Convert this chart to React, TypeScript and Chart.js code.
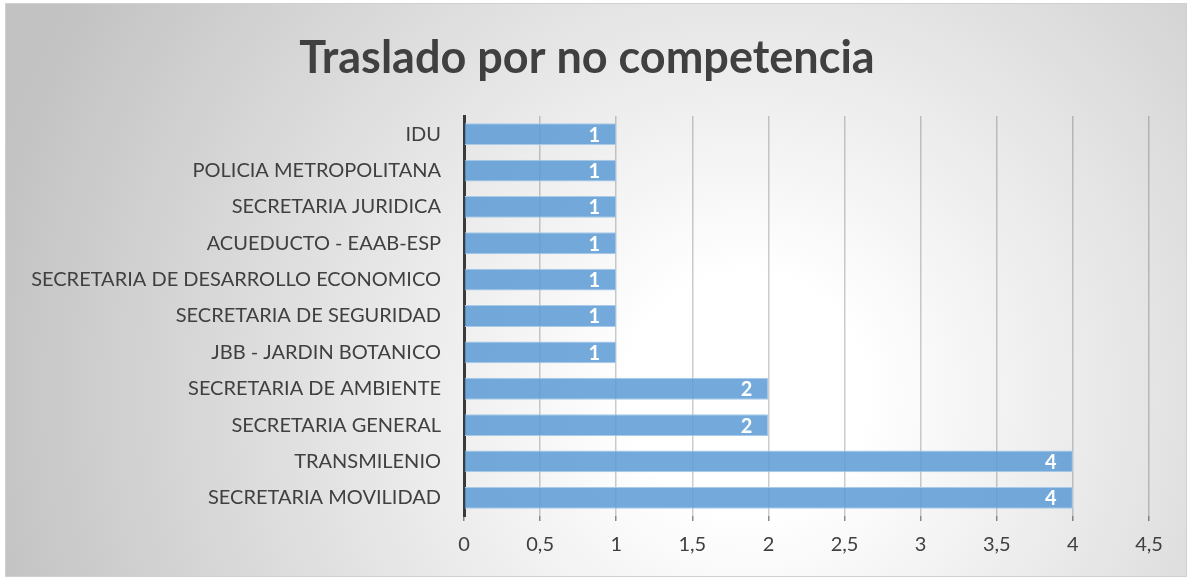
import React, { useEffect, useRef } from "react";
import { Chart, registerables } from "chart.js";

Chart.register(...registerables);

const categories = [
  "IDU",
  "POLICIA METROPOLITANA",
  "SECRETARIA JURIDICA",
  "ACUEDUCTO - EAAB-ESP",
  "SECRETARIA DE DESARROLLO ECONOMICO",
  "SECRETARIA DE SEGURIDAD",
  "JBB - JARDIN BOTANICO",
  "SECRETARIA DE AMBIENTE",
  "SECRETARIA GENERAL",
  "TRANSMILENIO",
  "SECRETARIA MOVILIDAD",
];
const values = [1, 1, 1, 1, 1, 1, 1, 2, 2, 4, 4];
const titleText = "Traslado por no competencia";
const FONT = "Lato, 'Open Sans', sans-serif";

const bgPlugin = {
  id: "bgGrad",
  beforeDraw(chart: any) {
    const { ctx, width, height } = chart;
    ctx.save();
    const g = ctx.createRadialGradient(740, 390, 120, 740, 390, 780);
    g.addColorStop(0, "#ffffff");
    g.addColorStop(1, "#c2c2c2");
    ctx.fillStyle = g;
    ctx.fillRect(0, 0, width, height);
    ctx.restore();
  },
};

const labelPlugin = {
  id: "barLabels",
  afterDatasetsDraw(chart: any) {
    const { ctx } = chart;
    const meta = chart.getDatasetMeta(0);
    ctx.save();
    ctx.fillStyle = "#ffffff";
    ctx.font = `bold 20px ${FONT}`;
    ctx.textAlign = "center";
    ctx.textBaseline = "middle";
    meta.data.forEach((bar: any, i: number) => {
      ctx.fillText(String(values[i]), bar.x - 22, bar.y + 1);
    });
    ctx.restore();
  },
};

export default function App() {
  const ref = useRef<HTMLCanvasElement | null>(null);
  useEffect(() => {
    document.body.style.margin = "0";
    const chart = new Chart(ref.current!, {
      type: "bar",
      data: {
        labels: categories,
        datasets: [
          {
            data: values,
            backgroundColor: "rgba(91,155,213,0.85)",
            borderColor: "#a9cbea",
            borderWidth: 1,
            categoryPercentage: 0.6,
            barPercentage: 1,
          },
        ],
      },
      plugins: [bgPlugin, labelPlugin],
      options: {
        indexAxis: "y",
        animation: false,
        responsive: false,
        layout: { padding: { left: 10.5, right: 28.5, top: 0, bottom: 0 } },
        plugins: {
          legend: { display: false },
          tooltip: { enabled: false },
          title: {
            display: true,
            text: titleText,
            color: "#404040",
            font: { family: FONT, size: 45, weight: "bold" },
            padding: { top: 27, bottom: 31 },
          },
        },
        scales: {
          x: {
            min: 0,
            max: 4.5,
            ticks: {
              stepSize: 0.5,
              color: "#404040",
              font: { family: FONT, size: 20 },
              padding: 12,
              callback: (v: any) => String(v).replace(".", ","),
            },
            grid: {
              color: "rgba(0,0,0,0.2)",
              tickColor: "rgba(0,0,0,0.45)",
              tickLength: 5,
              lineWidth: 1.5,
            },
            border: { display: false },
            afterFit: (s: any) => {
              s.height = 60;
            },
          },
          y: {
            ticks: {
              color: "#404040",
              font: { family: FONT, size: 20 },
              padding: 15,
              autoSkip: false,
            },
            grid: { display: false },
            border: { display: true, color: "#3a3a3a", width: 3 },
            afterFit: (s: any) => {
              s.width = 447.5;
            },
          },
          yRightSpace: {
            type: "linear",
            position: "right",
            ticks: { display: false },
            grid: { display: false },
            border: { display: false },
            afterFit: (s: any) => {
              s.width = 8.5;
            },
          },
        },
      },
    } as any);
    return () => chart.destroy();
  }, []);
  return (
    <div
      style={{
        position: "absolute",
        left: 5,
        top: 3,
        width: 1182,
        height: 574,
        border: "1px solid #d0d0d0",
        boxSizing: "border-box",
      }}
    >
      <canvas ref={ref} width={1180} height={572} style={{ display: "block" }} />
    </div>
  );
}
